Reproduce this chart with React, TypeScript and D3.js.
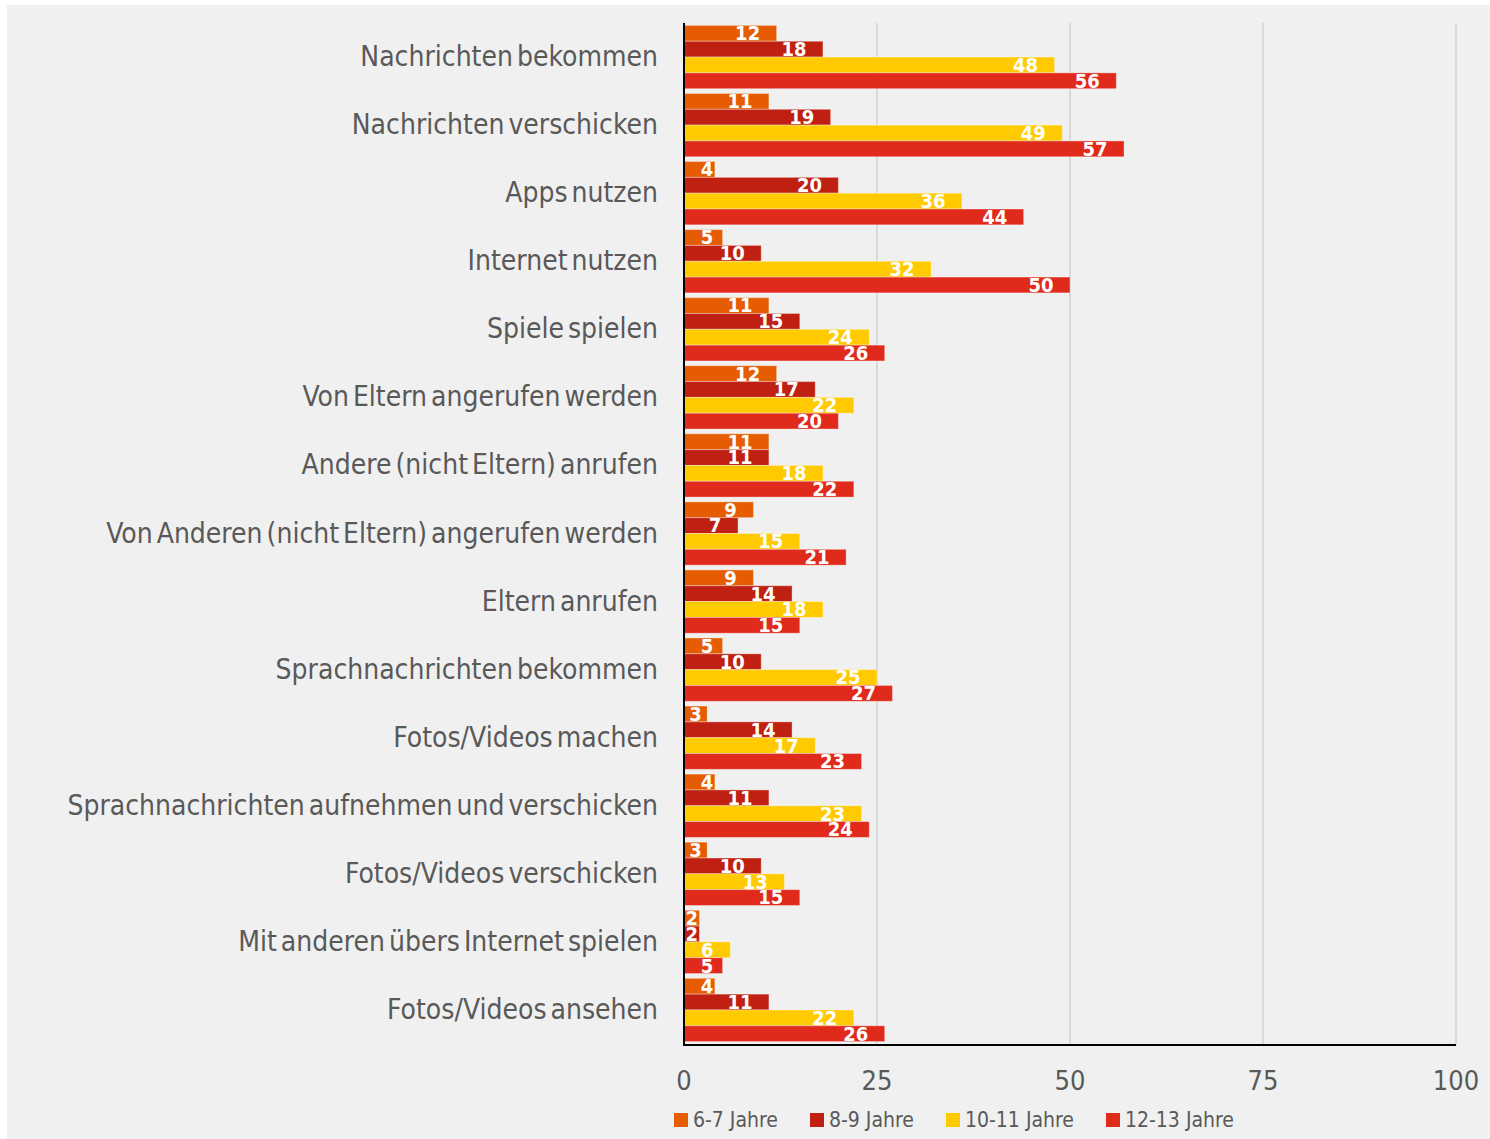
import React, { useRef, useEffect } from "react";
import * as d3 from "d3";

const categories = [
  "Nachrichten bekommen",
  "Nachrichten verschicken",
  "Apps nutzen",
  "Internet nutzen",
  "Spiele spielen",
  "Von Eltern angerufen werden",
  "Andere (nicht Eltern) anrufen",
  "Von Anderen (nicht Eltern) angerufen werden",
  "Eltern anrufen",
  "Sprachnachrichten bekommen",
  "Fotos/Videos machen",
  "Sprachnachrichten aufnehmen und verschicken",
  "Fotos/Videos verschicken",
  "Mit anderen übers Internet spielen",
  "Fotos/Videos ansehen",
];

const seriesNames = ["6-7 Jahre", "8-9 Jahre", "10-11 Jahre", "12-13 Jahre"];
const seriesColors = ["#e65c02", "#bf2012", "#ffcb00", "#e02a1c"];

const age6to7 = [12, 11, 4, 5, 11, 12, 11, 9, 9, 5, 3, 4, 3, 2, 4];
const age8to9 = [18, 19, 20, 10, 15, 17, 11, 7, 14, 10, 14, 11, 10, 2, 11];
const age10to11 = [48, 49, 36, 32, 24, 22, 18, 15, 18, 25, 17, 23, 13, 6, 22];
const age12to13 = [56, 57, 44, 50, 26, 20, 22, 21, 15, 27, 23, 24, 15, 5, 26];

const xTicks = [0, 25, 50, 75, 100];

const FONT = "'DejaVu Sans Condensed', 'Liberation Sans Narrow', Roboto, sans-serif";
const TEXT_COLOR = "#595959";

export default function App() {
  const svgRef = useRef<SVGSVGElement>(null);

  useEffect(() => {
    if (!svgRef.current) return;
    const svg = d3.select(svgRef.current);
    svg.selectAll("*").remove();

    const width = 1490;
    const height = 1139;
    const values = [age6to7, age8to9, age10to11, age12to13];

    svg
      .append("rect")
      .attr("x", 7)
      .attr("y", 5)
      .attr("width", width - 7)
      .attr("height", height - 5)
      .attr("fill", "#f0f0f0");

    const x = d3.scaleLinear().domain([0, 100]).range([684, 1456]);
    const y = d3
      .scaleBand()
      .domain(categories)
      .range([22, 1045])
      .paddingInner(0.07)
      .paddingOuter(0.05);
    const ySub = d3
      .scaleBand<number>()
      .domain([0, 1, 2, 3])
      .range([0, y.bandwidth()]);

    // grid lines
    svg
      .append("g")
      .selectAll("line")
      .data(xTicks.filter((t) => t > 0))
      .join("line")
      .attr("x1", (d) => x(d))
      .attr("x2", (d) => x(d))
      .attr("y1", 23)
      .attr("y2", 1045)
      .attr("stroke", "#d9d9d9")
      .attr("stroke-width", 2);

    // label position: inside end, pushed right of the axis for short bars
    const labelX = (v: number) => {
      const w = String(v).length * 12;
      const end = x(v);
      const barW = end - x(0);
      if (barW < 29) return x(0) + barW / 2;
      return Math.max(end - 17 - w / 2, x(0) + 17 + w / 2);
    };

    const groups = svg
      .append("g")
      .selectAll("g")
      .data(categories)
      .join("g")
      .attr("transform", (c) => `translate(0,${y(c)})`);

    groups.each(function (c, ci) {
      const g = d3.select(this);
      values.forEach((arr, si) => {
        const v = arr[ci];
        const by = ySub(si) as number;
        const bh = ySub.bandwidth();
        g.append("rect")
          .attr("x", x(0))
          .attr("y", by)
          .attr("width", x(v) - x(0))
          .attr("height", bh)
          .attr("fill", seriesColors[si])
          .attr("stroke", "rgba(255,255,255,0.35)")
          .attr("stroke-width", 1);
        g.append("text")
          .attr("x", labelX(v))
          .attr("y", by + bh - 1)
          .attr("text-anchor", "middle")
          .attr("font-family", FONT)
          .attr("font-weight", "bold")
          .attr("font-size", 20)
          .attr("fill", "#ffffff")
          .text(v);
      });
    });

    // category labels
    svg
      .append("g")
      .selectAll("text")
      .data(categories)
      .join("text")
      .attr("x", 658)
      .attr("y", (c) => (y(c) as number) + y.bandwidth() / 2 + 9)
      .attr("text-anchor", "end")
      .attr("font-family", FONT)
      .attr("font-size", 28)
      .attr("word-spacing", -4)
      .attr("fill", TEXT_COLOR)
      .text((c) => c);

    // axis lines
    svg
      .append("line")
      .attr("x1", x(0))
      .attr("x2", x(0))
      .attr("y1", 23)
      .attr("y2", 1046)
      .attr("stroke", "#000")
      .attr("stroke-width", 2);
    svg
      .append("line")
      .attr("x1", x(0))
      .attr("x2", x(100))
      .attr("y1", 1045)
      .attr("y2", 1045)
      .attr("stroke", "#000")
      .attr("stroke-width", 2);

    // tick labels
    svg
      .append("g")
      .selectAll("text")
      .data(xTicks)
      .join("text")
      .attr("x", (d) => x(d))
      .attr("y", 1090)
      .attr("text-anchor", "middle")
      .attr("font-family", FONT)
      .attr("font-size", 27)
      .attr("fill", TEXT_COLOR)
      .text((d) => d);

    // legend
    const legendX = [674, 810, 946, 1106];
    const legend = svg
      .append("g")
      .selectAll("g")
      .data(seriesNames)
      .join("g")
      .attr("transform", (_, i) => `translate(${legendX[i]},1113)`);
    legend
      .append("rect")
      .attr("width", 14)
      .attr("height", 14)
      .attr("fill", (_, i) => seriesColors[i]);
    legend
      .append("text")
      .attr("x", 19)
      .attr("y", 14)
      .attr("font-family", FONT)
      .attr("font-size", 21)
      .attr("fill", TEXT_COLOR)
      .text((d) => d);
  }, []);

  return (
    <svg
      ref={svgRef}
      width={1490}
      height={1139}
      style={{ position: "absolute", left: 0, top: 0, background: "#ffffff" }}
    ></svg>
  );
}
